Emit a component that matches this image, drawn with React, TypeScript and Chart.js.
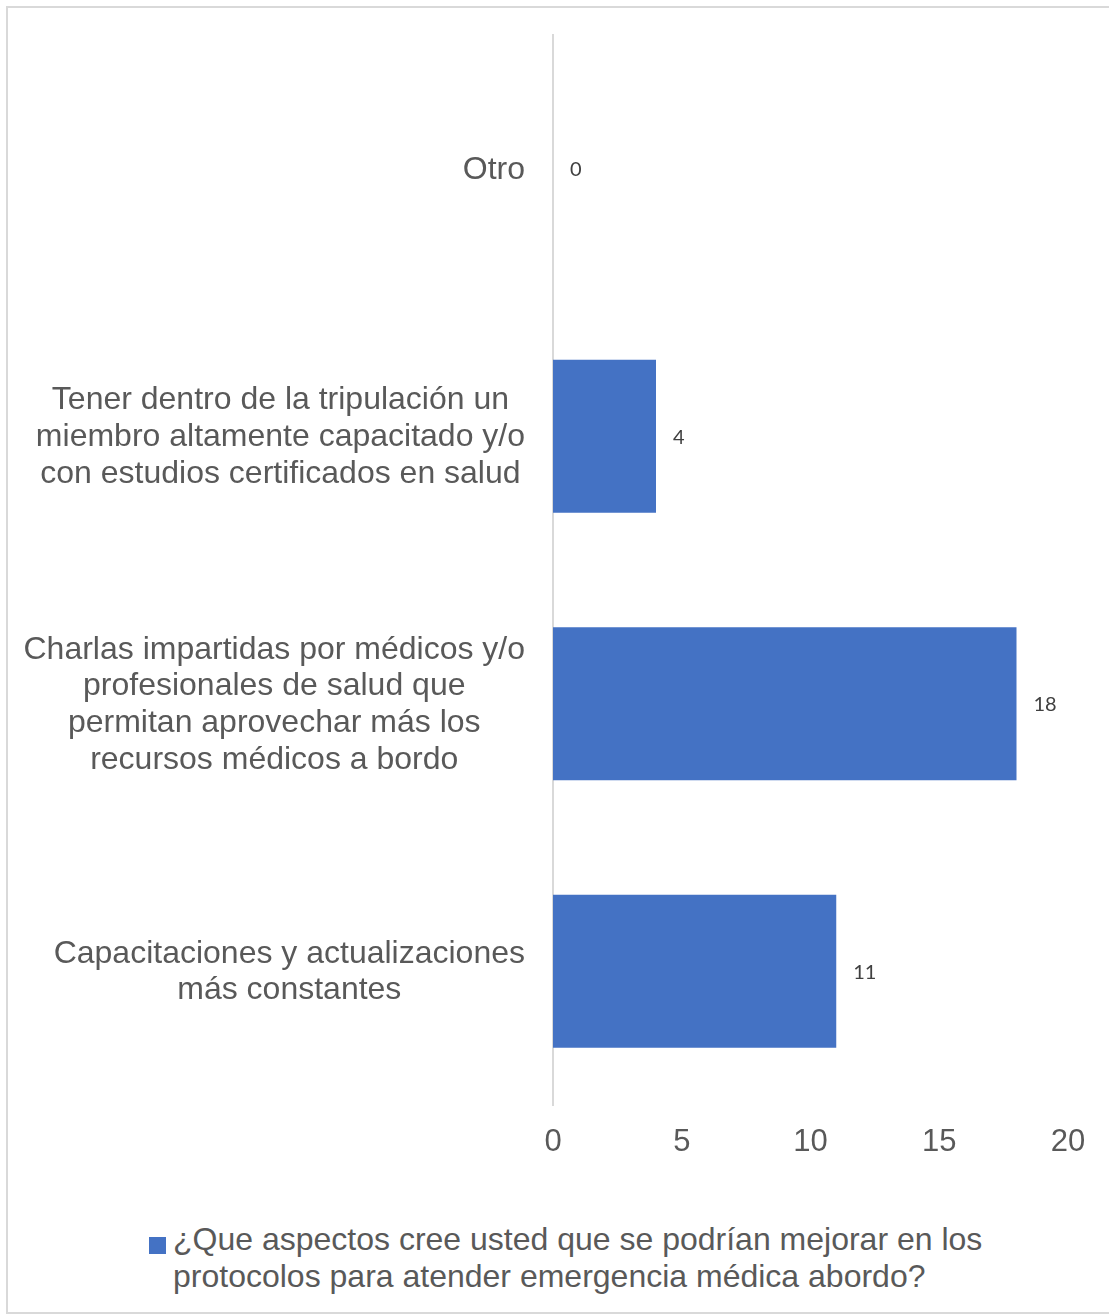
import React, { useEffect, useRef } from "react";
import { Chart, registerables } from "chart.js";

Chart.register(...registerables);

const categories: string[][] = [
  ["Otro"],
  ["Tener dentro de la tripulación un", "miembro altamente capacitado y/o", "con estudios certificados en salud"],
  ["Charlas impartidas por médicos y/o", "profesionales de salud que", "permitan aprovechar más los", "recursos médicos a bordo"],
  ["Capacitaciones y actualizaciones", "más constantes"],
];
const values: number[] = [0, 4, 18, 11];
const seriesName = "¿Que aspectos cree usted que se podrían mejorar en los protocolos para atender emergencia médica abordo?";
const legendLines: string[] = [
  "¿Que aspectos cree usted que se podrían mejorar en los",
  "protocolos para atender emergencia médica abordo?",
];
const xTicksMin = 0;
const xTicksMax = 20;
const xTicksStep = 5;

const BAR_COLOR = "#4472C4";
const TEXT_COLOR = "#595959";
const LABEL_FONT = "Liberation Sans, Arial, sans-serif";

const customLabels = {
  id: "customLabels",
  afterDatasetsDraw(chart: any) {
    const ctx = chart.ctx;
    const yScale = chart.scales.y;
    const xScale = chart.scales.x;
    const area = chart.chartArea;
    ctx.save();
    // category labels
    ctx.font = `32px ${LABEL_FONT}`;
    ctx.fillStyle = TEXT_COLOR;
    ctx.textAlign = "center";
    ctx.textBaseline = "middle";
    const lh = 36.7;
    categories.forEach((lines, i) => {
      const cy = yScale.getPixelForTick(i) + 1;
      let maxW = 0;
      lines.forEach((l) => (maxW = Math.max(maxW, ctx.measureText(l).width)));
      const cx = area.left - 28 - maxW / 2;
      lines.forEach((l, j) => {
        ctx.fillText(l, cx, cy + (j - (lines.length - 1) / 2) * lh);
      });
    });
    // data labels
    ctx.font = "20px Lato, sans-serif";
    ctx.fillStyle = "#404040";
    ctx.textAlign = "left";
    const meta = chart.getDatasetMeta(0);
    meta.data.forEach((bar: any, i: number) => {
      const x = xScale.getPixelForValue(values[i]) + 17;
      ctx.fillText(String(values[i]), x, bar.y + 1);
    });
    ctx.restore();
  },
};

export default function App() {
  const ref = useRef<HTMLCanvasElement>(null);
  useEffect(() => {
    if (!ref.current) return;
    const chart = new Chart(ref.current, {
      type: "bar",
      data: {
        labels: categories.map((c) => c.join(" ")),
        datasets: [
          {
            label: seriesName,
            data: values,
            backgroundColor: BAR_COLOR,
            categoryPercentage: 1,
            barPercentage: 0.572,
          },
        ],
      },
      options: {
        indexAxis: "y",
        animation: false,
        responsive: false,
        maintainAspectRatio: false,
        layout: { padding: { left: 0, right: 40, top: 27, bottom: 43 } },
        plugins: {
          legend: { display: false },
          tooltip: { enabled: false },
        },
        scales: {
          x: {
            min: xTicksMin,
            max: xTicksMax,
            grid: { display: false },
            border: { display: false },
            ticks: {
              stepSize: xTicksStep,
              color: TEXT_COLOR,
              font: { family: LABEL_FONT, size: 31 },
              padding: 11,
            },
            afterFit: (s: any) => {
              s.height = 60;
            },
          },
          y: {
            grid: { display: false },
            border: { display: true, color: "#d9d9d9", width: 2 },
            ticks: { display: false },
            afterFit: (s: any) => {
              s.width = 545;
            },
          },
        },
      },
      plugins: [customLabels],
    });
    return () => chart.destroy();
  }, []);

  return (
    <div
      style={{
        position: "absolute",
        left: 6,
        top: 6,
        width: 1106,
        height: 1308,
        border: "2px solid #d9d9d9",
        boxSizing: "border-box",
        background: "#fff",
      }}
    >
      <canvas ref={ref} width={1100} height={1200} style={{ position: "absolute", left: 0, top: 0 }} />
      <div
        style={{
          position: "absolute",
          left: 141,
          top: 1229,
          width: 17,
          height: 17,
          background: BAR_COLOR,
        }}
      />
      <div
        style={{
          position: "absolute",
          left: 165,
          top: 1213,
          width: 940,
          fontFamily: LABEL_FONT,
          fontSize: 32,
          lineHeight: "37px",
          color: TEXT_COLOR,
          whiteSpace: "nowrap",
        }}
      >
        {legendLines.map((l, i) => (
          <div key={i}>{l}</div>
        ))}
      </div>
    </div>
  );
}
